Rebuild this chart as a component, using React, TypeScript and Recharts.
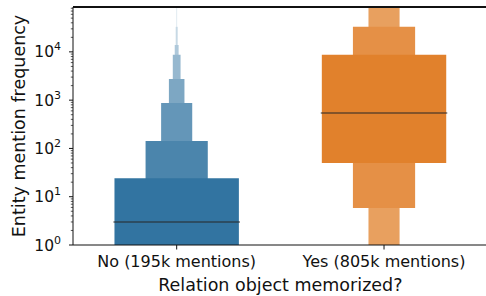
import React from "react";
import { ComposedChart, XAxis, YAxis, ReferenceArea, ReferenceLine } from "recharts";

const categories = ["No (195k mentions)", "Yes (805k mentions)"];
// letter-value boxes, innermost (widest) first
const noLower = [1, 1, 1, 1, 1, 1, 1, 1];
const noUpper = [24, 143, 877, 2750, 8670, 13960, 33000, 100000];
const yesLower = [50, 5.85, 1];
const yesUpper = [8670, 33000, 100000];
const medians = [3, 540];
const majorTicks = [1, 10, 100, 1000, 10000];
const Y_MAX = 85000;

const BASE = ["#3274a1", "#e1812c"];
const FONT = "DejaVu Sans";
const INK = "#111";

// lighten towards white, like seaborn's boxen colormap
const blend = (hex: string, t: number) => {
    const n = parseInt(hex.slice(1), 16);
    const ch = [(n >> 16) & 255, (n >> 8) & 255, n & 255].map((c) => Math.round(c + (255 - c) * t));
    return `rgb(${ch.join(",")})`;
};

const allTicks: number[] = [];
majorTicks.forEach((m) => {
    for (let k = 1; k < 10; k++) if (m * k <= Y_MAX) allTicks.push(m * k);
});

const boxes = [
    { lower: noLower, upper: noUpper },
    { lower: yesLower, upper: yesUpper },
];

const YTick = (props: any) => {
    const { x, y, payload } = props;
    const v = payload.value;
    const e = Math.log10(v);
    const major = Math.abs(e - Math.round(e)) < 1e-6;
    if (!major) {
        return <line x1={x - 2.2} x2={x} y1={y} y2={y} stroke={INK} strokeWidth={0.7} />;
    }
    return (
        <g>
            <line x1={x - 4} x2={x} y1={y} y2={y} stroke={INK} strokeWidth={1} />
            <text x={x - 12} y={y + 5.5} textAnchor="end" fontSize={15.5} fontFamily={FONT} fill={INK}>
                10
                <tspan dy={-7} fontSize={11}>{Math.round(e)}</tspan>
            </text>
        </g>
    );
};

export default function App() {
    const data = categories.map((c, i) => ({ idx: i, median: medians[i] }));

    return (
        <div style={{ position: "absolute", left: 0, top: 0, width: 486, height: 296, overflow: "hidden", background: "#fff" }}>
            <ComposedChart width={490} height={296} data={data} margin={{ top: 7, right: 2.3, bottom: 0, left: 0 }}>
                <XAxis
                    dataKey="idx"
                    type="number"
                    domain={[-0.5, 1.5]}
                    ticks={[0, 1]}
                    tickFormatter={(i: number) => categories[i]}
                    height={51}
                    tickSize={4.5}
                    tickMargin={6.5}
                    stroke={INK}
                    tick={{ fontSize: 16, fontFamily: FONT, fill: INK }}
                    label={(p: any) => {
                        const vb = p.viewBox || { x: 73, y: 245, width: 415, height: 51 };
                        return (
                            <text x={vb.x + vb.width / 2} y={vb.y + 46} textAnchor="middle" fontSize={17.5} fontFamily={FONT} fill={INK}>
                                Relation object memorized?
                            </text>
                        );
                    }}
                />
                <YAxis
                    type="number"
                    scale="log"
                    domain={[1, Y_MAX]}
                    allowDataOverflow
                    ticks={allTicks}
                    interval={0}
                    width={73}
                    tickLine={false}
                    tickSize={0}
                    tickMargin={0}
                    stroke={INK}
                    tick={<YTick />}
                    label={(p: any) => {
                        const vb = p.viewBox || { x: 0, y: 7, width: 73, height: 238 };
                        return (
                            <text
                                transform={`translate(${vb.x + 25},${vb.y + vb.height / 2}) rotate(-90)`}
                                textAnchor="middle"
                                fontSize={17.5}
                                fontFamily={FONT}
                                fill={INK}
                            >
                                Entity mention frequency
                            </text>
                        );
                    }}
                />
                {boxes.map((b, ci) =>
                    b.upper
                        .map((hi, k) => ({ hi, lo: b.lower[k], k }))
                        .reverse()
                        .map(({ hi, lo, k }) => {
                            const half = 0.3 / Math.pow(2, k);
                            return (
                                <ReferenceArea
                                    key={`${ci}-${k}`}
                                    x1={ci - half}
                                    x2={ci + half}
                                    y1={lo}
                                    y2={hi}
                                    fill={blend(BASE[ci], (0.85 * k) / 7)}
                                    fillOpacity={1}
                                    stroke="none"
                                    ifOverflow="hidden"
                                />
                            );
                        })
                )}
                {medians.map((m, ci) => (
                    <ReferenceLine
                        key={`med-${ci}`}
                        segment={[{ x: ci - 0.305, y: m }, { x: ci + 0.305, y: m }]}
                        stroke="#262626"
                        strokeOpacity={0.5}
                        strokeWidth={2}
                        ifOverflow="hidden"
                    />
                ))}
            </ComposedChart>
            {/* top spine */}
            <div style={{ position: "absolute", left: 72.5, top: 6.4, width: 420, height: 1.2, background: INK }} />
        </div>
    );
}
